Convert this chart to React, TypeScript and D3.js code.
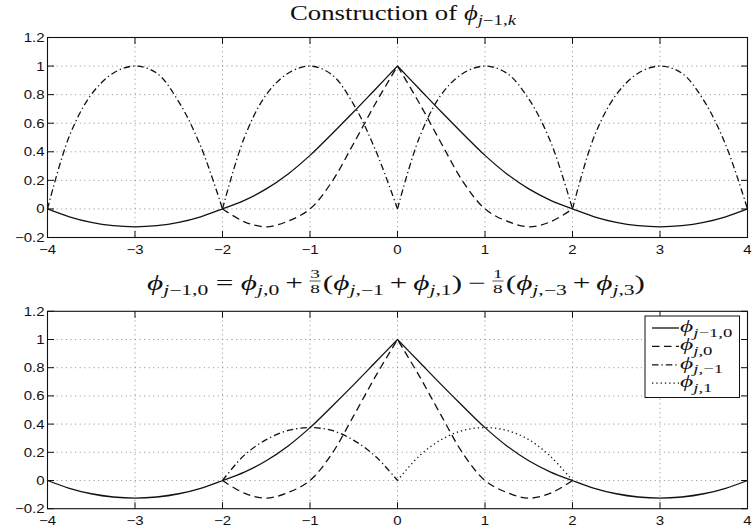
import React, { useEffect, useRef } from "react";
import * as d3 from "d3";

// ---- data -------------------------------------------------------------
const STEP = 0.25;

const X_TICKS = [-4, -3, -2, -1, 0, 1, 2, 3, 4];
const X_TICK_LABELS = ["−4", "−3", "−2", "−1", "0", "1", "2", "3", "4"];
const Y_TICKS = [-0.2, 0, 0.2, 0.4, 0.6, 0.8, 1, 1.2];
const Y_TICK_LABELS = ["−0.2", "0", "0.2", "0.4", "0.6", "0.8", "1", "1.2"];

// coarse scaling function phi_{j-1,0}, sampled from x = -4 every 0.25
const PHI_COARSE_X0 = -4;
const PHI_COARSE = [
  0, -0.055, -0.094, -0.117, -0.125, -0.117, -0.094, -0.055,
  0, 0.06, 0.14, 0.245, 0.375, 0.525, 0.68, 0.84,
  1,
  0.84, 0.68, 0.525, 0.375, 0.245, 0.14, 0.06, 0,
  -0.055, -0.094, -0.117, -0.125, -0.117, -0.094, -0.055, 0,
];

// fine scaling function phi_{j,0}, sampled from x = -2
const PHI_FINE_0_X0 = -2;
const PHI_FINE_0 = [
  0, -0.09, -0.125, -0.085, 0, 0.19, 0.46, 0.74,
  1,
  0.74, 0.46, 0.19, 0, -0.085, -0.125, -0.09, 0,
];

// central lobes of the odd fine functions phi_{j,-3}, phi_{j,-1}, phi_{j,1}, phi_{j,3}
const LOBE_M3_X0 = -4;
const LOBE_M3 = [0, 0.51, 0.8, 0.95, 1, 0.95, 0.75, 0.44, 0];
const LOBE_M1_X0 = -2;
const LOBE_M1 = [0, 0.5, 0.8, 0.95, 1, 0.94, 0.73, 0.41, 0];
const LOBE_P1_X0 = 0;
const LOBE_P1 = [0, 0.5, 0.8, 0.95, 1, 0.95, 0.77, 0.47, 0];
const LOBE_P3_X0 = 2;
const LOBE_P3 = [0, 0.51, 0.8, 0.95, 1, 0.95, 0.76, 0.45, 0];

// 3/8-weighted neighbours in the refinement relation
const W_M1_X0 = -2;
const W_M1 = [0, 0.18, 0.29, 0.355, 0.375, 0.355, 0.285, 0.17, 0];
const W_P1_X0 = 0;
const W_P1 = [0, 0.175, 0.29, 0.355, 0.375, 0.355, 0.29, 0.17, 0];

const LEGEND_LABELS = [
  ["j", "−1,0"],
  ["j", ",0"],
  ["j", ",−1"],
  ["j", ",1"],
];

// ---- layout / style -----------------------------------------------------
const W = 752;
const H = 531;
const AX_LEFT = 47.5;
const AX_RIGHT = 747.5;
const PANELS = [
  { top: 37.5, bottom: 237.5 },
  { top: 311.3, bottom: 508.7 },
];
const TICK_LEN = 6.5;
const INK = "#111";
const SERIF = "'Liberation Serif', 'DejaVu Serif', serif";
const SANS = "'Liberation Sans', Arial, Helvetica, sans-serif";
const LABEL_STRETCH = 1.2;

const DASH = {
  solid: null as string | null,
  dashed: "7.5,4.5",
  dashdot: "6.5,3,1.3,3",
  dotted: "1.3,3",
};

type Curve = { x0: number; vals: number[]; dash: string | null; cusp?: number };

const TOP_CURVES: Curve[] = [
  { x0: LOBE_M3_X0, vals: LOBE_M3, dash: DASH.dashdot },
  { x0: LOBE_M1_X0, vals: LOBE_M1, dash: DASH.dashdot },
  { x0: LOBE_P1_X0, vals: LOBE_P1, dash: DASH.dashdot },
  { x0: LOBE_P3_X0, vals: LOBE_P3, dash: DASH.dashdot },
  { x0: PHI_FINE_0_X0, vals: PHI_FINE_0, dash: DASH.dashed, cusp: 0 },
  { x0: PHI_COARSE_X0, vals: PHI_COARSE, dash: DASH.solid, cusp: 0 },
];

const BOTTOM_CURVES: Curve[] = [
  { x0: W_M1_X0, vals: W_M1, dash: DASH.dashdot },
  { x0: W_P1_X0, vals: W_P1, dash: DASH.dotted },
  { x0: PHI_FINE_0_X0, vals: PHI_FINE_0, dash: DASH.dashed, cusp: 0 },
  { x0: PHI_COARSE_X0, vals: PHI_COARSE, dash: DASH.solid, cusp: 0 },
];

type Tok = { t?: string; it?: boolean; sub?: boolean; gap?: number; frac?: [string, string] };

const PHI = "ϕ";
const sym = (j: string, rest: string): Tok[] => [
  { t: PHI, it: true },
  { t: j, it: true, sub: true },
  { t: rest, sub: true },
];

const TITLE_1: Tok[] = [
  { t: "Construction of" },
  { gap: 5 },
  { t: PHI, it: true },
  { t: "j", it: true, sub: true },
  { t: "−1,", sub: true },
  { t: "k", it: true, sub: true },
];

const BIN = 4;
const REL = 5;
const TITLE_2: Tok[] = [
  ...sym("j", "−1,0"),
  { gap: REL }, { t: "=" }, { gap: REL },
  ...sym("j", ",0"),
  { gap: BIN }, { t: "+" }, { gap: BIN },
  { frac: ["3", "8"] },
  { t: "(" },
  ...sym("j", ",−1"),
  { gap: BIN }, { t: "+" }, { gap: BIN },
  ...sym("j", ",1"),
  { t: ")" },
  { gap: BIN }, { t: "−" }, { gap: BIN },
  { frac: ["1", "8"] },
  { t: "(" },
  ...sym("j", ",−3"),
  { gap: BIN }, { t: "+" }, { gap: BIN },
  ...sym("j", ",3"),
  { t: ")" },
];

type MathOpts = { size: number; subSize: number; subShift: number; fracSize?: number };

// Lays out a run of math tokens left to right from (0, 0 baseline); returns width.
function setMath(g: d3.Selection<SVGGElement, unknown, null, undefined>, toks: Tok[], o: MathOpts) {
  let cx = 0;
  for (const tok of toks) {
    if (tok.gap) {
      cx += tok.gap;
      continue;
    }
    if (tok.frac) {
      const fs = o.fracSize ?? o.subSize;
      const num = g.append("text").attr("font-size", fs).attr("y", -12).text(tok.frac[0]);
      const den = g.append("text").attr("font-size", fs).attr("y", 2.5).text(tok.frac[1]);
      const wn = (num.node() as SVGTextElement).getComputedTextLength();
      const wd = (den.node() as SVGTextElement).getComputedTextLength();
      const w = Math.max(wn, wd) + 2;
      num.attr("x", cx + (w - wn) / 2);
      den.attr("x", cx + (w - wd) / 2);
      g.append("line")
        .attr("x1", cx + 0.5).attr("x2", cx + w - 0.5)
        .attr("y1", -9).attr("y2", -9)
        .attr("stroke", INK).attr("stroke-width", 0.7);
      cx += w + 1;
      continue;
    }
    const el = g.append("text")
      .attr("x", cx)
      .attr("y", tok.sub ? o.subShift : 0)
      .attr("font-size", tok.sub ? o.subSize : o.size)
      .attr("font-style", tok.it ? "italic" : "normal")
      .text(tok.t ?? "");
    cx += (el.node() as SVGTextElement).getComputedTextLength();
  }
  return cx;
}

export default function App() {
  const ref = useRef<SVGSVGElement>(null);

  useEffect(() => {
    const draw = () => {
      const svg = d3.select(ref.current as SVGSVGElement);
      svg.selectAll("*").remove();
      svg.append("rect").attr("width", W).attr("height", H).attr("fill", "#fff");

      const x = d3.scaleLinear().domain([-4, 4]).range([AX_LEFT, AX_RIGHT]);

      PANELS.forEach((p, pi) => {
        const y = d3.scaleLinear().domain([-0.2, 1.2]).range([p.bottom, p.top]);
        const g = svg.append("g");

        // dotted grid
        const grid = g.append("g")
          .attr("stroke", "#808080")
          .attr("stroke-width", 0.9)
          .attr("stroke-dasharray", "1,3.6");
        X_TICKS.slice(1, -1).forEach((t) => {
          grid.append("line").attr("x1", x(t)).attr("x2", x(t)).attr("y1", p.top).attr("y2", p.bottom);
        });
        Y_TICKS.slice(1, -1).forEach((t) => {
          grid.append("line").attr("x1", AX_LEFT).attr("x2", AX_RIGHT).attr("y1", y(t)).attr("y2", y(t));
        });

        // curves
        const line = d3.line<[number, number]>()
          .x((d) => x(d[0]))
          .y((d) => y(d[1]))
          .curve(d3.curveCatmullRom.alpha(0.5));
        const curves = pi === 0 ? TOP_CURVES : BOTTOM_CURVES;
        curves.forEach((c) => {
          const pts: [number, number][] = c.vals.map((v, i) => [c.x0 + i * STEP, v]);
          const pieces: [number, number][][] = [];
          let cur: [number, number][] = [];
          pts.forEach((pt) => {
            cur.push(pt);
            if (c.cusp !== undefined && Math.abs(pt[0] - c.cusp) < 1e-9 && cur.length > 1) {
              pieces.push(cur);
              cur = [pt];
            }
          });
          if (cur.length > 1) pieces.push(cur);
          const d = pieces
            .map((pc, k) => {
              const s = line(pc) ?? "";
              return k === 0 ? s : s.replace(/^M/, "L");
            })
            .join("");
          g.append("path")
            .attr("d", d)
            .attr("fill", "none")
            .attr("stroke", INK)
            .attr("stroke-width", 1.3)
            .attr("stroke-linejoin", "round")
            .attr("stroke-dasharray", c.dash);
        });

        // frame
        g.append("rect")
          .attr("x", AX_LEFT).attr("y", p.top)
          .attr("width", AX_RIGHT - AX_LEFT).attr("height", p.bottom - p.top)
          .attr("fill", "none").attr("stroke", INK).attr("stroke-width", 1.1);

        // inward ticks on all four sides
        const ticks = g.append("g").attr("stroke", INK).attr("stroke-width", 1);
        X_TICKS.forEach((t) => {
          ticks.append("line").attr("x1", x(t)).attr("x2", x(t)).attr("y1", p.bottom).attr("y2", p.bottom - TICK_LEN);
          ticks.append("line").attr("x1", x(t)).attr("x2", x(t)).attr("y1", p.top).attr("y2", p.top + TICK_LEN);
        });
        Y_TICKS.forEach((t) => {
          ticks.append("line").attr("x1", AX_LEFT).attr("x2", AX_LEFT + TICK_LEN).attr("y1", y(t)).attr("y2", y(t));
          ticks.append("line").attr("x1", AX_RIGHT).attr("x2", AX_RIGHT - TICK_LEN).attr("y1", y(t)).attr("y2", y(t));
        });

        // tick labels (slightly widened glyphs)
        const lab = g.append("g").attr("font-family", SANS).attr("font-size", 12.5).attr("fill", INK);
        X_TICKS.forEach((t, i) => {
          lab.append("text")
            .attr("transform", `translate(${x(t)},${p.bottom + 16.5}) scale(${LABEL_STRETCH},1)`)
            .attr("text-anchor", "middle").text(X_TICK_LABELS[i]);
        });
        Y_TICKS.forEach((t, i) => {
          lab.append("text")
            .attr("transform", `translate(${AX_LEFT - 3},${y(t) + 4.5}) scale(${LABEL_STRETCH},1)`)
            .attr("text-anchor", "end").text(Y_TICK_LABELS[i]);
        });
      });

      // titles: typeset, then stretched to the span they occupy above each panel
      const place = (toks: Tok[], o: MathOpts, left: number, right: number, base: number) => {
        const tg = svg.append("g").attr("font-family", SERIF).attr("fill", INK);
        const w = setMath(tg, toks, o);
        const s = (right - left) / w;
        tg.attr("transform", `translate(${left},${base}) scale(${s},1)`);
      };
      place(TITLE_1, { size: 20, subSize: 14, subShift: 5 }, 290, 516, 20);
      place(TITLE_2, { size: 21, subSize: 14.5, subShift: 5, fracSize: 13 }, 147, 645, 290);

      // legend
      const lg = svg.append("g");
      lg.append("rect")
        .attr("x", 645).attr("y", 316).attr("width", 94.5).attr("height", 81.5)
        .attr("fill", "#fff").attr("stroke", INK).attr("stroke-width", 1);
      const styles = [DASH.solid, DASH.dashed, DASH.dashdot, DASH.dotted];
      LEGEND_LABELS.forEach((lbl, i) => {
        const ly = 328 + i * 18.4;
        lg.append("line")
          .attr("x1", 652).attr("x2", 679).attr("y1", ly).attr("y2", ly)
          .attr("stroke", INK).attr("stroke-width", 1.3)
          .attr("stroke-dasharray", styles[i]);
        const tg = lg.append("g").attr("font-family", SERIF).attr("fill", INK)
          .attr("transform", `translate(680,${ly + 4}) scale(1.5,1)`);
        setMath(tg, sym(lbl[0], lbl[1]), { size: 17, subSize: 12.5, subShift: 4.5 });
      });
    };

    draw();
    if (document.fonts && document.fonts.ready) document.fonts.ready.then(draw);
  }, []);

  return (
    <svg
      ref={ref}
      width={W}
      height={H}
      style={{ position: "absolute", left: 0, top: 0, display: "block" }}
    />
  );
}
